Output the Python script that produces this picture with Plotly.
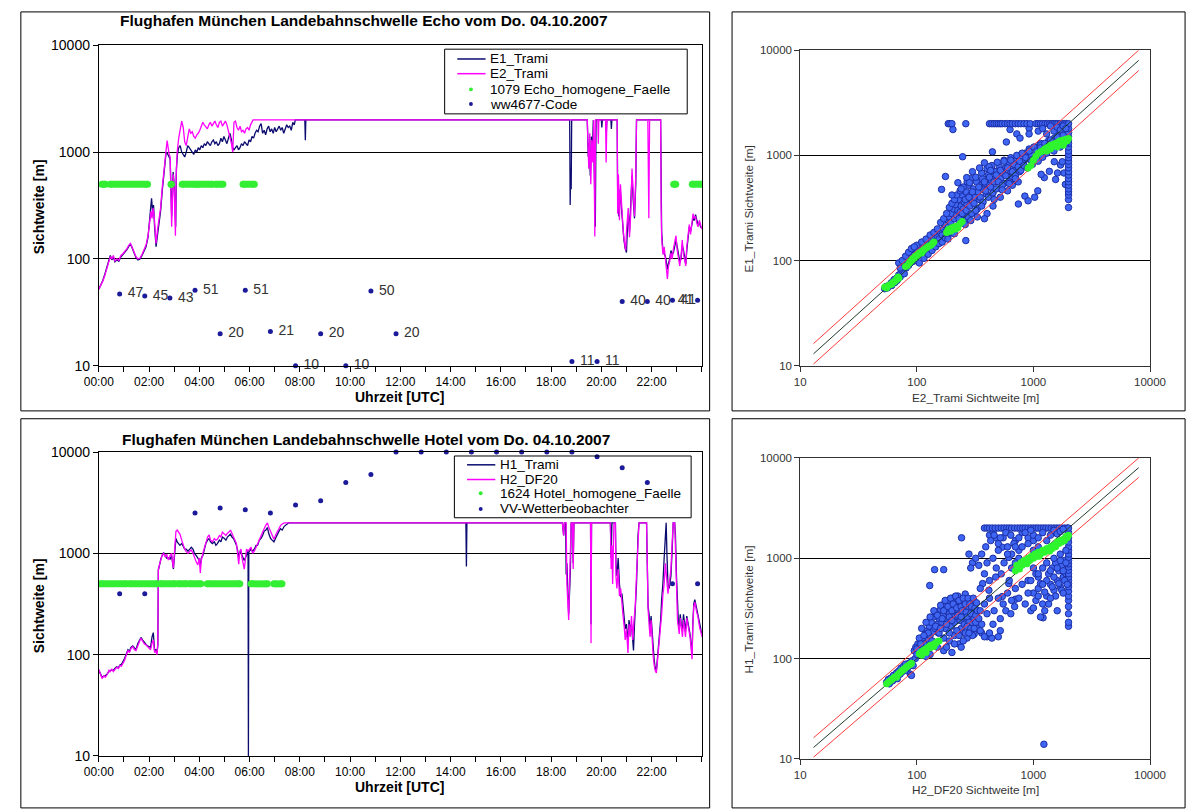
import plotly.graph_objects as go

W, H = 1204, 812

# ---------------- data: Echo (top) ----------------
e2_t = [0.00,0.08,0.16,0.24,0.32,0.40,0.46,0.52,0.58,0.64,0.72,0.80,0.88,0.96,1.04,1.12,1.20,1.26,1.32,1.40,1.48,1.56,1.64,1.72,1.80,1.88,1.96,2.02,2.08,2.12,2.16,2.20,2.24,2.28,2.34,2.40,2.46,2.52,2.58,2.63,2.68,2.72,2.76,2.80,2.84,2.87,2.90,2.93,2.96,3.00,3.03,3.05,3.08,3.12,3.18,3.24,3.30,3.36,3.42,3.48,3.54,3.60,3.66,3.72,3.78,3.84,3.90,3.96,4.02,4.08,4.14,4.20,4.26,4.32,4.38,4.44,4.50,4.56,4.62,4.68,4.74,4.80,4.86,4.92,4.98,5.04,5.10,5.16,5.22,5.28,5.33,5.38,5.44,5.50,5.56,5.62,5.68,5.74,5.80,5.86,5.92,5.98,6.04,6.10,6.14,19.44,19.46,19.50,19.54,19.58,19.62,19.66,19.70,19.72,19.74,19.77,19.86,19.88,19.90,20.17,20.19,20.22,20.63,20.65,20.68,20.72,20.76,20.80,20.84,20.88,20.93,20.97,21.00,21.03,21.07,21.12,21.17,21.22,21.27,21.32,21.37,21.40,21.85,21.87,21.89,21.92,22.36,22.38,22.40,22.45,22.50,22.55,22.60,22.63,22.67,22.72,22.77,22.82,22.87,22.92,22.97,23.02,23.07,23.12,23.17,23.22,23.27,23.32,23.36,23.40,23.45,23.50,23.55,23.60,23.65,23.70,23.75,23.80,23.85,23.90,23.95,24.00]
e2_v = [52,56,62,70,80,92,105,100,108,96,100,97,108,112,118,125,135,140,130,118,105,100,102,110,122,135,165,210,280,240,300,260,170,140,190,230,300,450,650,900,1050,1280,1050,950,900,500,200,350,620,450,180,165,600,1000,1350,1700,1950,1700,1250,1150,1400,1650,1500,1550,1400,1350,1450,1500,1600,1750,1900,1800,1700,1650,1800,1900,1750,1850,1950,1800,1700,1900,1950,1750,1850,1950,1800,1600,1400,1200,1000,1900,1950,1700,1600,1750,1550,1600,1500,1650,1700,1600,1800,1950,2000,2000,1150,700,1500,500,1300,800,2000,600,162,2000,2000,1200,2000,2000,800,2000,2000,265,620,230,500,350,240,170,140,120,180,230,300,160,260,700,400,250,600,2000,2000,300,240,2000,2000,300,160,110,130,100,75,65,85,95,114,100,125,140,165,120,100,86,105,150,110,90,86,130,175,210,170,230,265,240,250,215,200,230,210,190]

e1_t = [0.00,0.08,0.16,0.24,0.32,0.40,0.46,0.52,0.58,0.64,0.72,0.80,0.88,0.96,1.04,1.12,1.20,1.26,1.32,1.40,1.48,1.56,1.64,1.72,1.80,1.88,1.96,2.02,2.06,2.10,2.14,2.18,2.22,2.28,2.34,2.40,2.46,2.52,2.58,2.63,2.68,2.72,2.76,2.80,2.84,2.87,2.90,2.93,2.96,3.00,3.03,3.06,3.09,3.13,3.18,3.24,3.30,3.36,3.42,3.48,3.54,3.60,3.66,3.72,3.78,3.84,3.90,3.96,4.02,4.08,4.14,4.20,4.26,4.32,4.38,4.44,4.50,4.56,4.62,4.68,4.74,4.80,4.86,4.92,4.98,5.04,5.10,5.16,5.22,5.28,5.33,5.38,5.44,5.50,5.56,5.62,5.68,5.74,5.80,5.86,5.92,5.98,6.04,6.10,6.16,6.22,6.28,6.34,6.40,6.46,6.52,6.58,6.64,6.70,6.76,6.82,6.88,6.94,7.00,7.06,7.12,7.18,7.24,7.30,7.36,7.42,7.48,7.54,7.60,7.66,7.72,7.78,7.82,8.20,8.22,8.24,18.74,18.76,18.78,18.80,18.82,19.44,19.48,19.52,19.56,19.60,19.64,19.68,19.72,19.76,19.79,20.00,20.02,20.04,20.18,20.20,20.22,20.38,20.40,20.42,20.63,20.65,20.70,20.75,20.80,20.85,20.90,20.95,21.00,21.04,21.08,21.12,21.17,21.22,21.27,21.32,21.37,21.40,22.36,22.38,22.40,22.45,22.50,22.55,22.60,22.63,22.67,22.72,22.77,22.82,22.87,22.92,22.97,23.02,23.07,23.12,23.17,23.22,23.27,23.32,23.36,23.40,23.45,23.50,23.55,23.60,23.65,23.70,23.75,23.80,23.85,23.90,23.95,24.00]
e1_v = [52,57,63,72,82,95,108,98,104,94,98,95,105,110,115,122,132,138,128,115,103,98,100,108,120,130,160,230,330,370,280,320,200,130,170,220,280,420,600,850,1000,980,950,900,860,550,250,400,650,500,250,200,700,950,1100,1150,1000,950,900,1000,1150,1100,1050,1000,950,1050,1000,1100,1050,1150,1100,1200,1150,1250,1200,1150,1250,1300,1200,1250,1150,1200,1350,1250,1400,1300,1200,1350,1500,1300,1100,1050,1100,1150,1050,1100,1200,1150,1250,1200,1150,1300,1250,1400,1350,1500,1600,1550,1750,1850,1500,1600,1450,1650,1750,1550,1650,1500,1700,1550,1650,1750,1600,1700,1500,1650,1800,1700,1750,1600,1900,1800,2000,2000,1290,2000,2000,320,700,450,2000,2000,900,1200,600,1400,900,2000,500,200,2000,2000,1700,2000,2000,1550,2000,2000,1650,2000,2000,400,250,450,300,200,150,125,115,200,260,180,300,600,350,240,500,2000,2000,400,180,120,110,105,90,80,90,100,120,110,115,130,150,130,110,95,100,135,120,95,90,120,160,200,180,220,240,230,260,230,210,220,200,195]

echo_hom_start = [0.13,0.45,2.88,3.32,3.94,4.65,5.74,22.88,23.62]
echo_hom_end   = [0.26,1.94,2.88,3.87,4.52,4.94,6.19,22.96,24.00]
echo_hom_value = 500

ww_t = [0.83,1.83,2.83,3.83,4.83,5.83,6.83,7.83,8.83,9.83,10.83,11.83,18.83,19.83,20.83,21.83,22.83,23.83]
ww_code = [47,45,43,51,20,51,21,10,20,10,50,20,11,11,40,40,41,41]

# ---------------- data: Hotel (bottom) ----------------
h2_t = [0.00,0.06,0.13,0.20,0.26,0.34,0.40,0.45,0.52,0.58,0.64,0.71,0.78,0.84,0.90,0.97,1.03,1.10,1.16,1.22,1.28,1.35,1.42,1.48,1.55,1.62,1.68,1.74,1.81,1.88,1.94,2.00,2.06,2.12,2.17,2.22,2.27,2.32,2.35,2.37,2.42,2.47,2.52,2.58,2.64,2.70,2.77,2.84,2.90,2.94,2.97,3.02,3.07,3.12,3.18,3.23,3.30,3.36,3.42,3.48,3.55,3.62,3.68,3.75,3.81,3.88,3.94,4.00,4.04,4.08,4.14,4.20,4.26,4.33,4.39,4.45,4.52,4.60,4.66,4.72,4.80,4.86,4.92,5.00,5.06,5.12,5.18,5.24,5.30,5.36,5.42,5.48,5.53,5.57,5.61,5.66,5.70,5.74,5.79,5.83,5.88,5.94,6.00,6.06,6.12,6.19,6.26,6.32,6.39,6.45,6.52,6.58,6.65,6.71,6.77,6.84,6.90,6.97,7.03,7.10,7.17,7.23,7.30,7.38,18.45,18.50,18.53,18.60,18.63,18.66,18.70,18.73,18.77,18.80,18.85,18.88,18.91,19.57,19.59,19.61,20.36,20.39,20.42,20.45,20.50,20.56,20.58,20.62,20.67,20.72,20.77,20.82,20.86,20.91,20.95,21.00,21.03,21.06,21.10,21.15,21.20,21.25,21.30,21.35,21.40,21.46,21.50,21.80,21.83,21.86,21.90,21.94,21.98,22.02,22.06,22.10,22.14,22.19,22.23,22.28,22.32,22.36,22.40,22.45,22.50,22.55,22.60,22.65,22.70,22.77,22.82,22.86,22.92,22.95,22.99,23.03,23.07,23.10,23.14,23.18,23.23,23.27,23.31,23.35,23.40,23.44,23.48,23.53,23.58,23.61,23.64,23.68,23.72,23.76,23.80,23.84,23.88,23.92,23.96,24.00]
h2_v = [72,66,58,62,60,64,70,68,72,68,72,75,73,78,77,82,88,100,110,105,115,120,112,110,125,135,145,138,128,125,120,118,112,130,140,105,108,100,130,700,780,850,960,1000,920,980,860,950,1000,800,720,1100,1650,1700,1600,1550,1350,1200,1100,1040,1000,1050,1080,1000,900,820,770,900,640,850,1000,1150,1300,1450,1520,1350,1300,1400,1350,1380,1500,1450,1620,1550,1500,1580,1620,1700,1550,1450,1350,1250,950,780,1050,1100,900,820,700,850,1100,1050,1100,1150,1000,1050,1150,1250,1400,1500,1650,1750,1900,2000,1800,1620,1500,1380,1500,1620,1750,1880,1950,2000,2000,1500,2000,2000,500,300,220,450,900,2000,2000,700,2000,2000,130,2000,2000,700,1200,500,2000,2000,600,450,700,380,450,300,250,190,140,180,120,104,200,150,240,140,220,300,620,1300,2000,2000,530,280,200,150,220,140,100,80,70,66,85,110,130,180,250,390,500,800,600,400,500,700,1300,2000,2000,1300,500,220,180,160,230,180,150,220,180,150,230,200,190,150,110,90,190,300,330,280,260,240,200,180,170,150]

h1_t = [0.00,0.06,0.13,0.20,0.26,0.34,0.40,0.45,0.52,0.58,0.64,0.71,0.78,0.84,0.90,0.97,1.03,1.10,1.16,1.22,1.28,1.35,1.42,1.48,1.55,1.62,1.68,1.74,1.81,1.88,1.94,2.00,2.06,2.12,2.17,2.22,2.27,2.32,2.35,2.37,2.42,2.47,2.52,2.58,2.64,2.70,2.77,2.84,2.90,2.94,2.97,3.02,3.07,3.12,3.18,3.23,3.30,3.36,3.42,3.48,3.55,3.62,3.68,3.75,3.81,3.88,3.94,4.00,4.04,4.08,4.14,4.20,4.26,4.33,4.39,4.45,4.52,4.60,4.66,4.72,4.80,4.86,4.92,5.00,5.06,5.12,5.18,5.24,5.30,5.36,5.42,5.48,5.53,5.57,5.61,5.66,5.70,5.74,5.79,5.83,5.90,5.94,5.955,5.97,6.00,6.06,6.12,6.19,6.26,6.32,6.39,6.45,6.52,6.58,6.65,6.71,6.77,6.84,6.90,6.97,7.03,7.10,7.17,7.23,7.30,7.38,7.45,7.55,14.61,14.63,14.65,18.45,18.50,18.53,18.58,18.60,18.63,18.66,18.70,18.73,18.77,18.80,18.85,18.88,18.91,19.57,19.59,19.61,20.36,20.39,20.42,20.56,20.58,20.62,20.67,20.72,20.77,20.82,20.86,20.91,20.95,21.00,21.03,21.06,21.10,21.15,21.20,21.25,21.28,21.32,21.36,21.40,21.46,21.50,21.80,21.83,21.86,21.90,21.94,21.98,22.02,22.06,22.10,22.14,22.19,22.23,22.28,22.32,22.36,22.40,22.45,22.50,22.55,22.58,22.61,22.65,22.70,22.77,22.82,22.86,22.92,22.95,22.99,23.03,23.07,23.10,23.14,23.18,23.23,23.27,23.31,23.35,23.40,23.44,23.48,23.53,23.58,23.61,23.64,23.68,23.72,23.76,23.80,23.84,23.88,23.92,23.96,24.00]
h1_v = [70,64,60,61,62,65,68,70,70,70,73,76,74,79,80,85,92,102,112,108,118,122,115,112,128,140,148,140,132,126,122,120,118,150,165,110,112,105,125,680,800,880,950,1020,950,900,900,880,950,780,700,1000,1400,1300,1250,1200,1250,1150,1100,1100,1050,1100,1150,1100,1000,950,900,850,750,900,950,1100,1250,1350,1400,1300,1250,1300,1200,1250,1350,1300,1450,1400,1350,1450,1500,1550,1450,1400,1300,1200,1050,900,1000,1050,950,900,850,900,1000,1050,10,1050,1050,1100,1050,1100,1200,1200,1350,1400,1500,1650,1700,1800,1550,1400,1350,1300,1400,1550,1650,1750,1700,1850,1900,2000,2000,740,2000,2000,1500,2000,2000,620,800,400,250,380,700,2000,2000,800,2000,2000,200,2000,2000,900,2000,2000,800,600,900,500,370,400,300,220,180,200,150,130,220,180,200,120,110,200,280,500,1500,2000,2000,600,300,250,180,240,160,110,90,75,70,90,120,150,220,350,500,900,1400,2000,1000,500,450,600,1100,2000,2000,1500,600,250,200,190,250,200,180,250,200,170,240,210,200,160,120,100,200,320,350,300,280,250,220,190,180,160]

hotel_hom_start = [0.06,1.23,2.45,3.16,3.61,4.32,6.06,6.97]
hotel_hom_end   = [1.10,2.32,3.03,3.48,4.06,5.61,6.71,7.29]
hotel_hom_value = 500

vv_t = [0.83,1.83,3.83,4.83,5.83,6.83,7.83,8.83,9.83,10.83,11.83,12.83,13.83,14.83,15.83,16.83,17.83,18.83,19.83,20.83,21.83,22.83,23.83]
vv_m = [400,400,2500,2800,2700,2500,3000,3300,5000,6000,10000,10000,10000,10000,10000,10000,10000,10000,9000,7000,5000,500,500]

# ---------------- scatter data: Echo (E2 on x, E1 on y) ----------------
es_x = [53,55,56,58,60,61,62,64,65,67,68,70,72,73,75,76,78,80,81,83,85,86,88,90,92,93,95,97,99,100,102,104,106,108,110,112,115,117,120,123,126,130,133,137,140,145,150,155,160,165,170,175,178,182,186,190,195,198,202,206,210,215,220,225,230,235,240,245,250,255,260,265,270,275,280,290,300,305,315,325,335,345,355,365,375,385,395,410,420,435,450,465,480,495,510,525,545,560,580,600,620,640,660,680,700,730,760,790,820,850,880,920,960,1000,1050,1100,1150,1200,1280,1350,1420,1500,1580,1650,1720,1800,1880,1950,
        163,176,204,247,263,445,586,630,720,767,918,918,
        186,192,200,263,420,440,460,480,500,520,540,570,600,630,660,700,740,780,830,880,940,1050,1100,1150,1200,1260,1320,1380,1440,1500,1560,1620,1700,1780,1850,1920,
        1510,1710,1550,1880,1370,1240,1165,845,900,1025,743,1090,1610,1770,1830,1150,1300,1450,
        2000,2000,2000,2000,2000,2000,2000,2000,2000,2000,2000,2000,2000,2000,2000,2000,2000,2000,2000,2000,2000,2000,2000,
        100,105,110,115,120,125,130,135,140,145,150,155,160,165,170,175,180,185,190,195,200,205,210,215,220,225,230,235,240,245,250,255,260,265,270,275,280,285,290,295,300,310,320,330,340,350,360,370,380,390,400,410,420,430,440,450,460,470,480,490,500,520,540,560,580,600,620,640,660,680,700,720,740,760,780,800,830,860,890,920,950,980,1010,1040,1070,1100,1150,1200,1250,1300,1400,1500,1600,1700,1800,1900,
        1100,1200,1300,1400,1500,1600,1700,1800,1900,70,75,80,85,72,78,90,95,
        225,268,283,345,417,300,380,240,200,320,360,400,450,520,600,660,740,430,480,560,640,700,380,460,540,620,260,290,330,210,185]
es_y = [54,57,55,58,61,58,63,66,62,68,65,73,70,76,80,95,88,92,85,97,90,102,95,105,98,112,108,100,118,110,125,115,132,120,128,118,135,125,140,130,148,138,155,145,160,152,170,160,185,175,200,220,190,245,210,260,230,280,205,310,250,340,270,300,380,290,330,420,310,360,270,450,340,390,520,420,360,480,400,560,450,380,520,600,470,540,430,650,520,580,480,700,560,620,780,600,680,540,760,640,820,700,600,900,760,840,700,950,860,1050,930,1150,1000,880,1200,1050,1300,1150,1250,1380,1200,1450,1300,1550,1400,1650,1500,1750,
        475,630,1760,970,155,1080,1340,1760,1600,1460,1810,1600,
        2000,2000,2000,2000,2000,2000,2000,2000,2000,2000,2000,2000,2000,2000,2000,2000,2000,2000,2000,2000,2000,2000,2000,2000,2000,2000,2000,2000,2000,2000,2000,2000,2000,2000,2000,2000,
        870,810,590,530,705,615,660,410,370,400,345,460,680,870,680,1250,1100,1150,
        320,380,420,450,480,520,560,600,650,700,760,820,880,950,1020,1100,1200,1300,1400,1500,1650,1800,2000,
        140,95,150,105,160,115,175,125,185,135,200,145,230,150,250,165,280,170,320,185,350,190,380,200,420,215,250,460,230,280,500,240,380,300,560,260,400,330,600,280,450,350,620,310,500,400,680,360,560,460,750,400,620,500,800,440,560,700,480,860,560,720,520,900,640,760,560,950,700,820,640,1000,780,880,720,1050,800,950,760,1100,900,820,1200,950,1100,880,1180,960,1300,1050,1400,1100,1500,1200,1550,1300,
        1700,1800,1600,1900,1700,1850,1750,1900,1800,95,100,110,120,85,75,130,135,
        550,615,550,760,780,700,850,480,420,300,330,280,330,400,460,520,560,720,650,880,900,600,250,380,470,540,220,240,260,180,160]
es_hom_x = [53,55,57,59,61,62,64,66,67,69,70,80,83,86,88,90,92,95,97,100,103,105,108,110,113,116,120,124,128,132,136,140,180,185,190,195,200,205,210,215,220,225,235,245,900,950,1000,1050,1100,1150,1200,1250,1300,1350,1400,1450,1500,1550,1600,1650,1700,1750,1800,1850,1900,1950,2000,1300,1400,1600,1800]
es_hom_y = [56,55,58,59,60,62,63,65,67,70,68,88,90,95,98,100,104,106,110,112,115,118,120,118,125,128,132,135,138,140,145,150,185,195,200,190,205,198,210,200,212,205,225,235,760,800,900,980,1050,1080,1100,1150,1180,1200,1250,1220,1280,1300,1320,1350,1380,1300,1400,1350,1420,1380,1450,1100,1150,1200,1250]

# ---------------- scatter data: Hotel (H2 on x, H1 on y) ----------------
hs_x = [55,57,58,60,62,63,65,67,68,70,72,73,75,77,79,80,82,84,86,88,90,91,93,95,97,98,100,102,104,106,108,110,112,115,118,120,123,126,128,130,133,136,140,143,146,150,153,156,160,164,168,172,175,178,182,185,190,194,198,202,206,210,215,220,225,230,235,240,245,250,255,260,265,270,275,280,285,290,295,300,305,310,315,320,170,190,210,230,250,270,290,310,200,240,
        129,142,170,242,360,400,440,500,520,1230,1210,
        280,300,320,340,290,367,415,475,540,615,700,615,540,475,330,350,380,420,
        900,1000,1100,1200,1300,1400,1500,1600,1700,1800,1900,950,1050,1150,1250,1350,1450,1550,1650,1750,1850,1000,1100,
        700,800,900,1000,600,650,750,500,550,420,450,
        380,400,420,445,470,500,530,560,590,620,650,690,730,770,810,850,900,950,1000,1050,1100,1160,1220,1280,1350,1420,1500,1580,1660,1750,1850,1950,
        2000,2000,2000,2000,2000,2000,2000,2000,2000,2000,2000,2000,2000,2000,2000,2000,2000,2000,2000,2000,2000,2000,2000,2000,
        100,105,110,115,120,125,130,135,140,145,150,155,160,165,170,175,180,185,190,195,200,205,210,215,220,225,230,235,240,245,250,255,260,265,270,275,280,285,290,295,300,305,310,315,320,325,330,150,170,190,210,230,250,270,290,310,180,220,260,300,160,200,240,280,320,130,120,115,108,
        350,380,400,420,450,480,500,530,560,600,620,650,680,360,390,430,460,520,580,640,700,350,380,420,460,500,550,600,650,700,340,360,400,450,520,580,640,690,
        750,800,850,900,950,1000,1050,1100,1150,1200,1250,1300,1350,1400,1450,1500,1550,1600,1650,1700,1750,1800,1850,1900,1950,800,900,1000,1100,1200,1300,1400,1500,1600,1700,1800,750,850,950,1100,1300,1500,1700,1900,1200,1400,1600,1800,1000,1100,750,700]
hs_y = [58,62,56,64,60,68,65,72,63,75,70,80,74,84,78,88,76,82,90,70,68,95,85,120,100,130,110,140,122,135,150,118,160,128,175,140,190,155,210,170,230,185,260,200,290,220,180,250,310,230,270,350,200,300,240,380,280,330,210,400,260,300,350,250,420,290,330,200,380,270,310,440,230,350,280,320,240,380,300,260,340,290,360,310,120,150,170,140,180,160,190,175,115,130,
        535,770,770,1600,180,165,160,165,190,14,255,
        1100,900,1000,850,800,560,480,650,415,560,390,1020,1290,1600,200,190,165,180,
        600,450,500,350,420,550,480,600,520,650,700,300,380,260,300,700,800,900,750,850,950,800,650,
        1500,1800,1600,1500,1300,1100,1200,1400,1600,1700,1850,
        2000,2000,2000,2000,2000,2000,2000,2000,2000,2000,2000,2000,2000,2000,2000,2000,2000,2000,2000,2000,2000,2000,2000,2000,2000,2000,2000,2000,2000,2000,2000,2000,
        210,230,280,330,380,420,470,520,560,600,650,700,760,820,880,950,1020,1100,1200,1300,1450,1600,1800,2000,
        125,160,200,140,230,180,260,150,300,210,270,180,340,250,300,380,220,330,260,400,300,350,230,420,320,270,380,240,330,300,400,220,350,290,260,400,230,350,280,330,220,400,250,320,270,360,300,130,160,180,140,170,150,210,200,200,130,190,180,170,200,240,260,180,230,110,105,170,140,
        500,700,900,600,1000,800,1200,700,900,1100,600,800,1400,1100,1300,1500,1700,1600,1800,1700,1300,300,350,400,300,400,350,450,380,500,250,220,280,220,250,300,280,330,
        400,550,350,450,600,320,700,420,560,800,460,600,350,750,520,650,420,800,560,950,480,750,600,900,550,1300,1400,1700,1600,1800,1500,1700,1900,1750,1850,1950,1600,1800,1900,700,900,1000,1100,1200,550,400,300,450,1200,1300,1000,900]
hs_hom_x = [55,57,59,61,63,65,67,69,71,73,75,77,79,81,83,85,88,90,105,110,115,120,125,130,135,140,145,150,155,110,120,130,140,700,720,750,780,800,830,860,900,930,960,1000,1030,1070,1100,1150,1200,1250,1300,1350,1400,1450,1500,1550,1600,1650,1700,1750,1800,1850,1900,1950,2000,760,880,1120,1380]
hs_hom_y = [56,58,60,62,64,66,65,70,72,74,76,78,80,82,84,86,88,90,112,118,122,125,130,128,135,140,142,148,150,108,115,135,132,750,850,800,900,850,950,900,1000,950,1050,1000,1100,1050,1150,1100,1200,1150,1250,1200,1300,1250,1350,1300,1450,1400,1500,1450,1550,1500,1650,1600,1700,780,880,1050,1180]

# reference lines on the scatter plots
ref_x = [13, 8000]
ref_factor_upper = 1.25
ref_factor_lower = 0.8

hour_ticks = [0,2,4,6,8,10,12,14,16,18,20,22]
hour_labels = ["00:00","02:00","04:00","06:00","08:00","10:00","12:00","14:00","16:00","18:00","20:00","22:00"]
decades = [10,100,1000,10000]
decade_labels = ["10","100","1000","10000"]

# ---------------- figure ----------------
FONT = "Liberation Sans, Arial, sans-serif"
NAVY = "#0b0b70"
MAG = "#ff00ff"
GREEN = "#33ee33"
DOT = "#1a1a9a"

def pxx(x):
    return x / W

def pxy(y):
    return 1 - y / H

fig = go.Figure()

def bands(starts, ends, val):
    xs, ys = [], []
    for s, e in zip(starts, ends):
        xs += [s, e, None]
        ys += [val, val, None]
    return xs, ys

# --- top-left time series
fig.add_trace(go.Scatter(x=e1_t, y=e1_v, mode="lines", line=dict(color=NAVY, width=1.3), xaxis="x", yaxis="y", showlegend=False))
fig.add_trace(go.Scatter(x=e2_t, y=e2_v, mode="lines", line=dict(color=MAG, width=1.3), xaxis="x", yaxis="y", showlegend=False))
bx, by = bands(echo_hom_start, echo_hom_end, echo_hom_value)
fig.add_trace(go.Scatter(x=bx, y=by, mode="lines+markers", line=dict(color=GREEN, width=7), marker=dict(color=GREEN, size=7), xaxis="x", yaxis="y", showlegend=False))
ww_pos = ["middle right"] * (len(ww_t) - 1) + ["middle left"]
fig.add_trace(go.Scatter(x=ww_t, y=ww_code, mode="markers+text", text=[" " + str(c) for c in ww_code],
                         textposition=ww_pos, textfont=dict(family=FONT, size=14, color="#333333"),
                         marker=dict(color=DOT, size=5), cliponaxis=False, xaxis="x", yaxis="y", showlegend=False))

# --- bottom-left time series
fig.add_trace(go.Scatter(x=h1_t, y=h1_v, mode="lines", line=dict(color=NAVY, width=1.3), xaxis="x3", yaxis="y3", showlegend=False))
fig.add_trace(go.Scatter(x=h2_t, y=h2_v, mode="lines", line=dict(color=MAG, width=1.3), xaxis="x3", yaxis="y3", showlegend=False))
bx, by = bands(hotel_hom_start, hotel_hom_end, hotel_hom_value)
fig.add_trace(go.Scatter(x=bx, y=by, mode="lines+markers", line=dict(color=GREEN, width=7), marker=dict(color=GREEN, size=7), xaxis="x3", yaxis="y3", showlegend=False))
fig.add_trace(go.Scatter(x=vv_t, y=vv_m, mode="markers", marker=dict(color=DOT, size=5), cliponaxis=False, xaxis="x3", yaxis="y3", showlegend=False))

# --- scatter plots
BLUE_FILL = "#3e66f2"
BLUE_EDGE = "#1c2ea6"
for xa, ya, sx, sy, hx, hy in [("x2", "y2", es_x, es_y, es_hom_x, es_hom_y), ("x4", "y4", hs_x, hs_y, hs_hom_x, hs_hom_y)]:
    fig.add_trace(go.Scatter(x=sx, y=sy, mode="markers", marker=dict(color=BLUE_FILL, size=6.5, line=dict(color=BLUE_EDGE, width=1)), xaxis=xa, yaxis=ya, showlegend=False))
    fig.add_trace(go.Scatter(x=ref_x, y=[v * ref_factor_upper for v in ref_x], mode="lines", line=dict(color="#ff3b3b", width=1), xaxis=xa, yaxis=ya, showlegend=False))
    fig.add_trace(go.Scatter(x=ref_x, y=[v * ref_factor_lower for v in ref_x], mode="lines", line=dict(color="#ff3b3b", width=1), xaxis=xa, yaxis=ya, showlegend=False))
    fig.add_trace(go.Scatter(x=ref_x, y=ref_x, mode="lines", line=dict(color="#1f3a2a", width=1), xaxis=xa, yaxis=ya, showlegend=False))
    fig.add_trace(go.Scatter(x=hx, y=hy, mode="markers", marker=dict(color="#2ff52f", size=7), xaxis=xa, yaxis=ya, showlegend=False))

# --- axes
def ts_xaxis(domain, anchor):
    return dict(domain=domain, anchor=anchor, range=[0, 24], tickmode="array", tickvals=hour_ticks, ticktext=hour_labels,
                ticks="outside", ticklen=5, tickcolor="black", showline=True, linecolor="black", linewidth=1, mirror=True,
                showgrid=False, zeroline=False, tickfont=dict(family=FONT, size=12, color="black"),
                minor=dict(tickmode="array", tickvals=list(range(0, 25)), ticks="outside", ticklen=5, tickcolor="black", showgrid=False))

def ts_yaxis(domain, anchor):
    return dict(domain=domain, anchor=anchor, type="log", range=[1, 4], tickmode="array", tickvals=decades, ticktext=decade_labels,
                ticks="outside", ticklen=5, tickcolor="black", showline=True, linecolor="black", linewidth=1, mirror=True,
                showgrid=True, gridcolor="black", gridwidth=1, zeroline=False, tickfont=dict(family=FONT, size=14, color="black"))

def sc_xaxis(domain, anchor):
    return dict(domain=domain, anchor=anchor, type="log", range=[1, 4], tickmode="array", tickvals=decades, ticktext=decade_labels,
                ticks="outside", ticklen=5, tickcolor="#333", showline=True, linecolor="#333", linewidth=1, mirror=True,
                showgrid=False, zeroline=False, tickfont=dict(family=FONT, size=11.5, color="#333"))

def sc_yaxis(domain, anchor):
    return dict(domain=domain, anchor=anchor, type="log", range=[1, 4], tickmode="array", tickvals=decades, ticktext=decade_labels,
                ticks="outside", ticklen=5, tickcolor="#333", showline=True, linecolor="#333", linewidth=1, mirror=True,
                showgrid=True, gridcolor="black", gridwidth=1, zeroline=False, tickfont=dict(family=FONT, size=11.5, color="#333"))

fig.update_layout(
    width=W, height=H, margin=dict(l=0, r=0, t=0, b=0), paper_bgcolor="white", plot_bgcolor="white",
    xaxis=ts_xaxis([pxx(86), pxx(705)], "y"), yaxis=ts_yaxis([pxy(365), pxy(38)], "x"),
    xaxis2=sc_xaxis([pxx(806), pxx(1165)], "y2"), yaxis2=sc_yaxis([pxy(365), pxy(43)], "x2"),
    xaxis3=ts_xaxis([pxx(86), pxx(705)], "y3"), yaxis3=ts_yaxis([pxy(763), pxy(453)], "x3"),
    xaxis4=sc_xaxis([pxx(806), pxx(1165)], "y4"), yaxis4=sc_yaxis([pxy(766), pxy(459)], "x4"),
    showlegend=False,
)

ann = []
def text(x, y, s, size, bold=False, angle=0, color="black", xanchor="center"):
    ann.append(dict(x=pxx(x), y=pxy(y), xref="paper", yref="paper", text=("<b>%s</b>" % s) if bold else s, showarrow=False,
                    textangle=angle, xanchor=xanchor, yanchor="middle", font=dict(family=FONT, size=size, color=color)))

text(358, 13, "Flughafen München Landebahnschwelle Echo vom Do. 04.10.2007", 15.5, bold=True)
text(360, 440, "Flughafen München Landebahnschwelle Hotel vom Do. 04.10.2007", 15.5, bold=True)
text(25, 203, "Sichtweite [m]", 14, bold=True, angle=-90)
text(25, 610, "Sichtweite [m]", 14, bold=True, angle=-90)
text(395, 397, "Uhrzeit [UTC]", 14, bold=True)
text(395, 795, "Uhrzeit [UTC]", 14, bold=True)
text(753, 205, "E1_Trami Sichtweite [m]", 11.8, angle=-90, color="#333")
text(986, 398, "E2_Trami Sichtweite [m]", 11.8, color="#333")
text(753, 614, "H1_Trami Sichtweite [m]", 11.8, angle=-90, color="#333")
text(986, 798, "H2_DF20 Sichtweite [m]", 11.8, color="#333")

shapes = []
def rect(x0, y0, x1, y1, color="black"):
    shapes.append(dict(type="rect", xref="paper", yref="paper", x0=pxx(x0), x1=pxx(x1), y0=pxy(y1), y1=pxy(y0),
                       line=dict(color=color, width=1), fillcolor="rgba(0,0,0,0)", layer="above"))

# panel frames
rect(6, 4, 713, 411)
rect(736, 4, 1201, 411)
rect(6, 419, 713, 816)
rect(736, 419, 1201, 816)

# manual legends (Excel style)
def legend(box, rows, labels, kinds):
    x0, y0, x1, y1 = box
    rect(x0, y0, x1, y1)
    for (ry, lab, kind) in zip(rows, labels, kinds):
        if kind[0] == "line":
            shapes.append(dict(type="line", xref="paper", yref="paper", x0=pxx(x0 + 13), x1=pxx(x0 + 42), y0=pxy(ry), y1=pxy(ry),
                               line=dict(color=kind[1], width=1.5), layer="above"))
        else:
            cx = x0 + 27
            shapes.append(dict(type="circle", xref="paper", yref="paper", x0=pxx(cx - 2), x1=pxx(cx + 2), y0=pxy(ry + 2), y1=pxy(ry - 2),
                               line=dict(color=kind[1], width=0), fillcolor=kind[1], layer="above"))
        text(x0 + 45, ry, lab, 13.5, xanchor="left")

legend((441, 42, 690, 108), [52, 67, 83, 98], ["E1_Trami", "E2_Trami", "1079 Echo_homogene_Faelle", "ww4677-Code"],
       [("line", NAVY), ("line", MAG), ("dot", GREEN), ("dot", DOT)])
legend((451, 457, 694, 520), [466, 481, 495, 511], ["H1_Trami", "H2_DF20", "1624 Hotel_homogene_Faelle", "VV-Wetterbeobachter"],
       [("line", NAVY), ("line", MAG), ("dot", GREEN), ("dot", DOT)])

fig.update_layout(annotations=ann, shapes=shapes)

fig.write_html("out.html", config={"displayModeBar": False},
               post_script="var gd=document.getElementById('{plot_id}');gd.style.position='fixed';gd.style.left='0px';gd.style.top='0px';"
                           "document.documentElement.style.overflow='hidden';document.body.style.margin='0';document.body.style.overflow='hidden';")
